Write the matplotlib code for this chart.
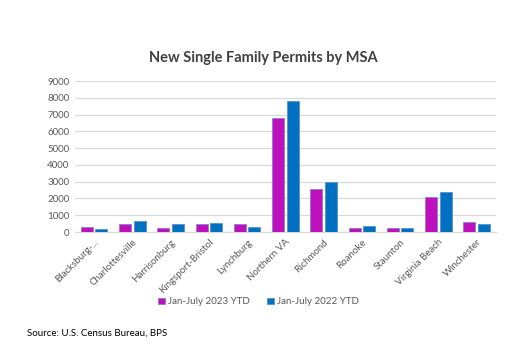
import numpy as np
import matplotlib
matplotlib.use("Agg")
import matplotlib.pyplot as plt

plt.rcParams['font.family'] = ['Lato', 'DejaVu Sans']

# data
msas = ['Blacksburg-...', 'Charlottesville', 'Harrisonburg', 'Kingsport-Bristol',
        'Lynchburg', 'Northern VA', 'Richmond', 'Roanoke', 'Staunton',
        'Virginia Beach', 'Winchester']
ytd_2023 = [280, 500, 240, 460, 460, 6810, 2590, 240, 240, 2110, 580]
ytd_2022 = [200, 640, 460, 520, 280, 7810, 3010, 340, 240, 2390, 500]
series_names = ['Jan-July 2023 YTD', 'Jan-July 2022 YTD']
yticks = list(range(0, 9001, 1000))

c23 = '#BE10BC'
c22 = '#0070C0'
txt = '#595959'

fig = plt.figure(figsize=(5.17, 3.62), dpi=100)
ax = fig.add_axes([0.145, 0.359, 0.814, 0.417])

x = np.arange(len(msas))
w = 0.31
ax.bar(x - w / 2 - 0.035, ytd_2023, w, color=c23, edgecolor='#8A7FD0', linewidth=0.6,
       label=series_names[0], zorder=3)
ax.bar(x + w / 2 + 0.035, ytd_2022, w, color=c22, edgecolor='#5B8FD0', linewidth=0.6,
       label=series_names[1], zorder=3)

ax.set_xlim(-0.5, len(msas) - 0.5)
ax.set_ylim(0, 9000)
ax.set_yticks(yticks)
ax.set_yticklabels([str(t) for t in yticks], fontsize=7, color=txt)
ax.set_xticks(x)
ax.set_xticklabels(msas, rotation=45, ha='right', rotation_mode='anchor',
                   fontsize=7, color=txt)
ax.tick_params(length=0, pad=4)
ax.grid(axis='y', color='#D9D9D9', linewidth=0.9, zorder=0)
for s in ['top', 'right', 'left']:
    ax.spines[s].set_visible(False)
ax.spines['bottom'].set_color('#D9D9D9')

fig.text(0.509, 0.84, 'New Single Family Permits by MSA', ha='center', va='center',
         fontsize=10.5, fontweight='bold', color='#404040')

leg = fig.legend(loc='center', bbox_to_anchor=(0.5, 0.166), ncol=2, frameon=False,
                 fontsize=7, handlelength=0.7, handleheight=0.7, handletextpad=0.3,
                 columnspacing=1.8)
for t in leg.get_texts():
    t.set_color(txt)

fig.text(0.052, 0.08, 'Source: U.S. Census Bureau, BPS', fontsize=7, color='#000000',
         va='center')

fig.savefig('out.png', dpi=100)
